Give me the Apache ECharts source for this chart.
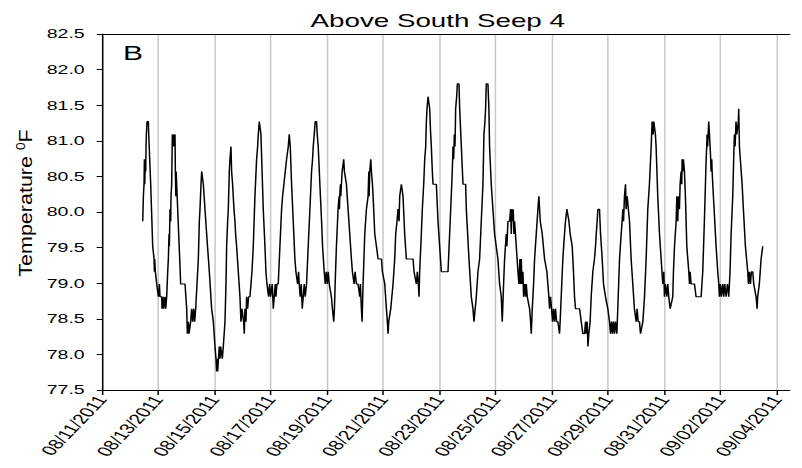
<!DOCTYPE html>
<html><head><meta charset="utf-8">
<script src="https://cdn.jsdelivr.net/npm/echarts@6/dist/echarts.min.js"></script>
<style>
html,body{margin:0;padding:0;background:#fff;overflow:hidden;}
#chart{width:535px;height:468px;transform:scaleX(1.4991);transform-origin:0 0;}
</style></head><body><div id="chart"></div>
<script>
const chartTitle = 'Above South Seep 4';
const panelLetter = 'B';
const yAxisTitle = 'Temperature';
const yMin = 77.5, yMax = 82.5, yStep = 0.5;
const tickDates = ['08/11/2011','08/13/2011','08/15/2011','08/17/2011','08/19/2011','08/21/2011','08/23/2011','08/25/2011','08/27/2011','08/29/2011','08/31/2011','09/02/2011','09/04/2011'];

// readings per day: [time, °F]
const aug12 = [['10:48',79.87],['11:22',80.22],['11:56',80.39],['12:13',80.74],['12:30',80.39],['13:04',80.74],['13:21',80.57],['13:38',80.92],['13:55',81.09],['14:30',81.27],['15:38',81.27],['15:55',81.09],['16:29',81.09],['17:37',80.39],['19:19',79.52],['20:28',79.34],['20:45',79.16],['21:02',79.34],['21:36',79.16],['22:44',78.99]];
const aug13 = [['00:10',78.81],['01:00',78.99],['01:35',78.81],['03:00',78.81],['03:17',78.64],['04:08',78.81],['04:42',78.64],['05:50',78.81],['06:24',78.64],['07:15',78.81],['08:07',79.16],['08:41',79.34],['09:15',79.69],['09:32',79.52],['10:06',80.04],['10:40',79.87],['10:57',80.22],['11:31',80.39],['12:05',81.09],['12:40',80.92],['12:57',81.09],['13:31',80.92],['14:22',81.09],['14:39',80.57],['15:05',80.22],['15:20',80.57],['15:48',80.57],['17:30',79.69],['19:12',78.99],['22:54',78.99]];
const aug14 = [['00:19',78.64],['00:53',78.29],['01:44',78.46],['02:18',78.29],['03:09',78.29],['03:43',78.46],['04:35',78.64],['05:26',78.46],['06:17',78.64],['07:08',78.46],['07:59',78.64],['08:50',78.64],['10:16',79.34],['11:07',79.87],['11:41',80.04],['12:32',80.39],['13:06',80.57],['13:57',80.57],['14:31',80.39],['17:22',79.69],['19:38',79.16],['21:37',78.64],['23:03',78.46]];
const aug15 = [['00:28',78.11],['01:19',77.94],['01:53',77.76],['02:27',77.94],['02:44',77.76],['03:35',77.76],['04:09',78.11],['04:43',77.94],['05:18',78.11],['06:09',78.11],['06:43',77.94],['07:34',78.11],['09:00',78.46],['09:51',78.99],['10:25',79.52],['11:16',79.87],['11:50',80.04],['12:41',80.57],['13:15',80.74],['14:06',80.92],['14:40',80.57],['15:31',80.39],['16:40',80.04],['17:31',79.87],['18:05',79.69],['18:56',79.52],['20:22',79.16],['21:47',78.81],['22:38',78.46],['23:29',78.64]];
const aug16 = [['00:03',78.64],['00:54',78.46],['01:28',78.29],['02:03',78.64],['02:54',78.46],['03:28',78.81],['04:19',78.64],['05:10',78.81],['06:19',78.81],['06:53',78.81],['08:01',79.16],['09:09',79.52],['10:34',80.22],['11:59',80.74],['12:51',80.92],['13:25',81.09],['14:16',81.27],['15:07',81.27],['15:41',81.09],['17:40',80.04],['19:06',79.52],['19:57',79.16],['20:48',78.99],['21:22',78.99],['22:13',78.81],['23:05',78.99],['23:56',78.81]];
const aug17 = [['00:47',78.81],['01:21',78.99],['02:13',78.64],['03:04',78.81],['03:55',78.99],['04:29',78.81],['05:20',78.99],['06:27',78.99],['07:53',79.52],['09:18',80.04],['10:09',80.22],['11:18',80.39],['12:26',80.57],['13:34',80.74],['14:59',80.92],['15:51',81.09],['16:42',80.92],['17:50',80.39],['19:15',79.87],['20:40',79.34],['21:32',79.16],['22:57',78.99],['23:48',79.16]];
const aug18 = [['00:22',78.99],['01:13',78.81],['02:05',78.99],['02:56',78.64],['03:47',78.81],['04:38',78.99],['05:29',78.81],['06:37',78.99],['08:02',79.52],['09:28',80.04],['10:53',80.57],['11:44',80.74],['12:18',80.92],['13:10',81.09],['14:01',81.27],['15:09',81.27],['15:43',81.09],['16:34',80.92],['17:59',80.39],['19:25',79.87],['20:16',79.52],['21:41',79.16],['22:33',78.99],['23:24',79.16]];
const aug19 = [['00:15',78.99],['01:06',79.16],['01:57',78.99],['03:48',78.81],['04:42',78.64],['05:48',78.46],['06:24',78.64],['07:01',78.99],['08:06',79.52],['09:30',80.04],['10:23',80.22],['10:41',80.04],['10:58',80.22],['11:32',80.39],['11:49',80.22],['12:22',80.39],['12:59',80.57],['14:20',80.74],['14:55',80.57],['15:47',80.57],['16:38',80.39],['18:03',80.04],['19:28',79.69],['20:54',79.34],['21:45',79.16],['22:19',79.16],['23:10',78.99]];
const aug20 = [['00:01',79.16],['01:09',78.99],['02:34',78.99],['04:00',78.81],['04:34',78.99],['05:25',78.64],['06:00',78.46],['06:51',78.99],['08:17',79.69],['09:42',80.04],['11:07',80.22],['11:44',80.57],['12:00',80.22],['12:33',80.57],['13:24',80.74],['13:58',80.57],['14:50',80.39],['15:24',80.22],['16:49',79.69],['18:14',79.52],['19:39',79.34],['22:30',79.34],['23:21',79.16],['23:55',79.16]];
const aug21 = [['01:20',78.99],['02:45',78.64],['03:36',78.46],['04:10',78.29],['04:44',78.46],['05:35',78.46],['06:26',78.64],['07:00',78.64],['08:25',78.99],['09:50',79.34],['10:41',79.69],['11:49',79.87],['12:41',80.04],['13:32',79.87],['14:06',80.22],['15:31',80.39],['16:22',80.39],['16:56',80.22],['18:21',79.69],['19:47',79.34],['21:12',79.34]];
const aug22 = [['00:02',79.34],['01:28',79.34],['02:19',79.16],['02:53',79.16],['04:18',78.99],['05:09',79.16],['06:00',78.99],['06:34',78.81],['07:08',79.16],['08:33',79.69],['09:24',80.04],['10:35',80.39],['11:26',80.74],['12:17',80.92],['12:51',81.27],['13:25',81.45],['14:16',81.62],['14:50',81.62],['15:41',81.45],['16:32',81.09],['17:06',80.92],['17:57',80.57],['18:31',80.39],['21:22',80.39],['22:47',79.87]];
const aug23 = [['00:12',79.52],['01:37',79.16],['07:18',79.16],['08:42',79.69],['10:06',80.22],['10:57',80.57],['11:35',80.92],['12:09',80.74],['12:43',81.09],['13:17',80.92],['13:51',81.45],['14:42',81.62],['15:18',81.80],['16:40',81.80],['17:17',81.45],['18:42',80.92],['20:07',80.39],['22:23',80.39],['22:57',80.04]];
const aug24 = [['01:13',79.34],['03:12',78.81],['04:37',78.64],['05:28',78.46],['06:20',78.46],['07:28',78.81],['08:53',79.16],['10:18',79.34],['11:43',79.87],['13:08',80.39],['13:59',81.09],['14:50',81.27],['15:24',81.45],['15:58',81.80],['17:23',81.80],['18:14',81.45],['18:48',80.92],['20:13',80.39],['21:39',80.04],['23:04',79.69]];
const aug25 = [['01:55',79.34],['03:21',78.99],['04:46',78.81],['05:37',78.46],['06:45',78.99],['07:37',79.34],['09:02',79.69],['09:36',79.52],['10:27',79.87],['11:53',79.87],['12:44',80.04],['13:18',79.69],['13:52',80.04],['14:26',79.87],['15:00',80.04],['15:34',79.69],['16:09',79.87],['17:35',79.52],['19:00',79.16],['19:51',78.99],['20:42',79.34],['21:16',78.99],['21:50',79.34],['22:24',78.99],['23:16',79.16],['23:50',78.81]];
const aug26 = [['00:41',78.99],['01:32',78.81],['02:06',78.99],['02:58',78.81],['03:32',78.81],['04:57',78.64],['05:48',78.46],['06:22',78.29],['07:13',78.64],['08:21',78.99],['09:12',79.34],['10:37',79.69],['12:02',80.04],['12:53',80.22],['14:02',79.87],['15:44',79.69],['17:43',79.34],['19:42',79.16],['21:24',78.81],['21:58',78.64],['22:49',78.81],['23:41',78.64]];
const aug27 = [['00:32',78.46],['01:23',78.64],['02:14',78.46],['03:05',78.64],['03:57',78.46],['05:05',78.46],['06:30',78.29],['07:00',78.46],['07:55',78.81],['09:18',79.34],['10:44',79.69],['11:35',79.87],['12:48',80.04],['13:38',80.04],['14:30',79.87],['15:36',79.69],['17:18',79.52],['18:24',79.16],['19:18',78.81],['20:06',78.64],['23:36',78.64]];
const aug28 = [['01:00',78.46],['02:24',78.29],['03:48',78.29],['04:42',78.46],['05:12',78.29],['06:06',78.46],['06:42',78.11],['07:30',78.29],['08:36',78.46],['09:30',78.81],['10:54',79.16],['12:18',79.34],['13:12',79.52],['13:48',79.69],['14:36',79.87],['15:12',80.04],['16:36',80.04],['17:30',79.69],['18:54',79.34],['20:00',78.99],['21:42',78.81],['23:42',78.64]];
const aug29 = [['01:06',78.46],['02:00',78.29],['02:48',78.46],['03:42',78.29],['04:30',78.46],['05:24',78.29],['06:12',78.46],['07:24',78.29],['08:12',78.64],['09:42',79.34],['11:06',79.69],['11:54',79.87],['12:30',80.04],['13:06',79.87],['13:54',80.22],['14:48',80.39],['15:18',80.04],['16:12',80.22],['16:48',80.22],['18:12',79.87],['19:36',79.34],['21:00',78.99],['22:24',78.64],['23:54',78.46]];
const aug30 = [['00:42',78.64],['01:36',78.46],['02:42',78.46],['03:36',78.29],['04:24',78.29],['05:36',78.46],['07:00',78.81],['08:24',79.34],['09:48',80.04],['11:12',80.39],['12:42',80.92],['13:30',81.27],['14:24',81.09],['14:54',81.27],['15:30',81.27],['16:18',81.09],['16:54',80.92],['18:18',80.22],['19:48',79.69],['21:12',79.34],['22:36',78.99],['23:30',79.16]];
const aug31 = [['00:00',78.81],['00:54',78.99],['02:00',78.81],['02:54',78.99],['03:42',78.81],['04:54',78.64],['05:42',78.64],['07:06',78.81],['07:42',79.16],['08:36',79.52],['10:00',79.87],['10:36',80.22],['11:24',79.87],['12:00',80.22],['12:48',80.04],['13:24',80.39],['14:12',80.57],['14:48',80.39],['15:06',80.74],['15:42',80.57],['16:12',80.74],['17:06',80.57],['17:54',80.22],['19:06',79.52],['20:48',79.16],['21:24',78.99],['21:54',79.16],['22:48',78.99]];
const sep01 = [['01:36',78.99],['03:00',78.81],['07:18',78.81],['08:42',79.16],['10:06',79.87],['11:00',80.39],['11:36',80.74],['12:06',80.92],['12:24',81.09],['12:54',80.92],['13:48',81.27],['14:24',81.09],['15:00',80.92],['15:30',80.74],['15:48',80.57],['16:24',80.74],['16:42',80.57],['17:48',80.22],['20:06',79.52],['21:30',79.16],['22:24',78.99],['22:54',78.81],['23:48',78.99]];
const sep02 = [['00:36',78.81],['01:48',78.99],['02:36',78.81],['03:30',78.99],['04:36',78.81],['05:48',78.99],['06:54',78.81],['07:30',78.81],['08:00',79.16],['08:54',79.69],['10:18',80.22],['11:06',80.74],['11:42',81.09],['12:18',80.92],['13:06',81.27],['13:42',81.09],['14:36',81.09],['15:06',81.27],['15:24',81.45],['16:00',80.92],['16:30',80.92],['18:18',80.39],['19:24',80.04],['21:06',79.52],['23:06',79.16],['23:42',78.99]];
const sep03 = [['00:30',79.16],['01:24',78.99],['02:12',79.16],['03:24',79.16],['04:12',78.99],['04:48',78.99],['06:12',78.81],['07:06',78.64],['07:36',78.81],['08:30',78.81],['09:00',78.99],['10:30',79.34],['11:54',79.52]];

const dayTable = [
  ['2011-08-12', aug12], ['2011-08-13', aug13], ['2011-08-14', aug14], ['2011-08-15', aug15],
  ['2011-08-16', aug16], ['2011-08-17', aug17], ['2011-08-18', aug18], ['2011-08-19', aug19],
  ['2011-08-20', aug20], ['2011-08-21', aug21], ['2011-08-22', aug22], ['2011-08-23', aug23],
  ['2011-08-24', aug24], ['2011-08-25', aug25], ['2011-08-26', aug26], ['2011-08-27', aug27],
  ['2011-08-28', aug28], ['2011-08-29', aug29], ['2011-08-30', aug30], ['2011-08-31', aug31],
  ['2011-09-01', sep01], ['2011-09-02', sep02], ['2011-09-03', sep03]
];

const DAY = 86400000;
const origin = Date.UTC(2011, 7, 11);
function dayValue(dateStr, timeStr) {
  const [y, m, d] = dateStr.split('-').map(Number);
  const [hh, mm] = timeStr.split(':').map(Number);
  return (Date.UTC(y, m - 1, d, hh, mm) - origin) / DAY;
}
const points = [];
dayTable.forEach(([date, rows]) => rows.forEach(([t, v]) => points.push([dayValue(date, t), v])));

const tickVals = tickDates.map(s => {
  const [m, d, y] = s.split('/').map(Number);
  return (Date.UTC(y, m - 1, d) - origin) / DAY;
});
const xMax = 24.45;

const FONT = "'Liberation Sans', Arial, Helvetica, sans-serif";
const chart = echarts.init(document.getElementById('chart'), null, {renderer: 'svg'});
chart.setOption({
  animation: false,
  backgroundColor: '#fff',
  title: {
    text: chartTitle, left: 287, top: 6, textAlign: 'center',
    textStyle: {fontFamily: FONT, fontSize: 18.5, fontWeight: 'normal', color: '#000'}
  },
  graphic: [{
    type: 'text', left: 82, top: 43,
    style: {text: panelLetter, fontFamily: FONT, fontSize: 20, fill: '#000'}
  }, {
    type: 'text', x: 17, y: 203, rotation: Math.PI / 2, scaleX: 1.72,
    style: {
      text: yAxisTitle + ' {sup|0}F', fontFamily: FONT, fontSize: 12.5, fill: '#000',
      align: 'center', verticalAlign: 'middle',
      rich: {sup: {fontFamily: FONT, fontSize: 8, fill: '#000', verticalAlign: 'top', padding: [0, 0, 6, 0]}}
    }
  }],
  grid: {left: 68, right: 8.3, top: 34, bottom: 78, outerBoundsMode: 'none'},
  xAxis: [{
    type: 'value', min: 0, max: xMax, position: 'bottom',
    axisLine: {show: true, onZero: false, lineStyle: {color: '#000', width: 1}},
    axisTick: {show: true, customValues: tickVals, length: 5, lineStyle: {color: '#000', width: 1}},
    axisLabel: {
      customValues: tickVals, rotate: 57, margin: 7,
      fontFamily: FONT, fontSize: 14, color: '#000',
      formatter: v => { const i = tickVals.findIndex(t => Math.abs(t - v) < 1e-6); return i >= 0 ? tickDates[i] : ''; }
    },
    splitLine: {show: true, lineStyle: {color: '#c8c8c8', width: 1}}
  }, {
    type: 'value', min: 0, max: xMax, position: 'top',
    axisLine: {show: true, onZero: false, lineStyle: {color: '#000', width: 1}},
    axisTick: {show: false}, axisLabel: {show: false}, splitLine: {show: false}
  }],
  yAxis: {
    type: 'value', min: yMin, max: yMax, interval: yStep,
    axisLine: {show: true, onZero: false, lineStyle: {color: '#000', width: 1}},
    axisTick: {show: true, length: 3.5, lineStyle: {color: '#000', width: 1}},
    axisLabel: {margin: 11.5, fontFamily: FONT, fontSize: 13, color: '#000', formatter: v => v.toFixed(1)},
    splitLine: {show: false}
  },
  series: [{
    type: 'line', data: points, xAxisIndex: 0, showSymbol: false, symbol: 'none',
    lineStyle: {color: '#000', width: 1}, silent: true
  }]
});
</script></body></html>
